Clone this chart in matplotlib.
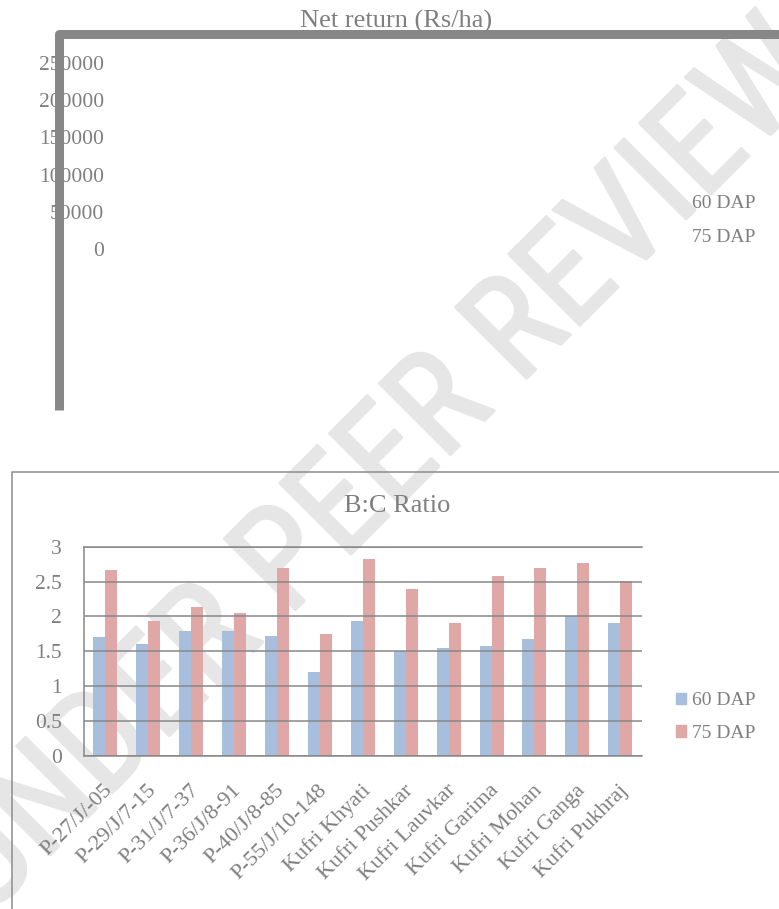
import numpy as np
import matplotlib
matplotlib.use("Agg")
import matplotlib.pyplot as plt
from matplotlib.lines import Line2D
from matplotlib.patches import Patch
from matplotlib.transforms import ScaledTranslation
import matplotlib.patheffects as pe

W, H = 779, 909
SERIF = ["Liberation Serif", "DejaVu Serif"]
TXT = "#7f7f7f"
FRAME = "#878787"
BLUE = "#a7bfdd"
RED = "#dfa7a6"
MARK = "#e6e6e6"

# net return panel (no bars rendered, only its axis ticks)
net_ticks = [0, 50000, 100000, 150000, 200000, 250000]
series = ["60 DAP", "75 DAP"]

# B:C ratio per genotype
varieties = ["P-27/J/-05", "P-29/J/7-15", "P-31/J/7-37", "P-36/J/8-91",
             "P-40/J/8-85", "P-55/J/10-148", "Kufri Khyati", "Kufri Pushkar",
             "Kufri Lauvkar", "Kufri Garima", "Kufri Mohan", "Kufri Ganga",
             "Kufri Pukhraj"]
bc_60 = [1.70, 1.60, 1.79, 1.79, 1.72, 1.20, 1.93, 1.50, 1.55, 1.58, 1.68, 2.00, 1.91]
bc_75 = [2.67, 1.93, 2.13, 2.05, 2.70, 1.75, 2.82, 2.39, 1.91, 2.58, 2.70, 2.77, 2.51]
bc_ticks = [0, 0.5, 1, 1.5, 2, 2.5, 3]


def box(x0, y0, x1, y1):
    # pixel box (top-left origin) -> figure fraction rect
    return [x0 / W, 1 - y1 / H, (x1 - x0) / W, (y1 - y0) / H]


def px(x, y):
    return x / W, 1 - y / H


fig = plt.figure(figsize=(W / 100, H / 100), dpi=100)
fig.patch.set_facecolor("white")

# watermark, under everything else
fig.text(*px(380, 470), "UNDER PEER REVIEW", ha="center", va="center",
         rotation=45, fontsize=102, color=MARK, zorder=-5,
         family=["Liberation Sans Narrow", "Roboto Condensed", "DejaVu Sans"],
         path_effects=[pe.withStroke(linewidth=2, foreground=MARK,
                                     joinstyle="round", capstyle="round")])

# ---- top panel: Net return ----
ax1 = fig.add_axes(box(110, 63, 600, 249))
ax1.set_ylim(0, 250000)
ax1.set_yticks(net_ticks)
ax1.set_yticklabels([str(t) for t in net_ticks])
ax1.set_xticks([])
for s in ax1.spines.values():
    s.set_visible(False)
ax1.tick_params(axis="y", length=0, pad=4.3, labelcolor=TXT, labelsize=15.5)
for lab in ax1.get_yticklabels():
    lab.set_family(SERIF)
ax1.patch.set_alpha(0)

fx, fy = zip(*[px(59.5, 410), px(59.5, 33.5), px(800, 33.5)])
fig.add_artist(Line2D(fx, fy, transform=fig.transFigure, color=FRAME, lw=6.5,
                      solid_joinstyle="round", solid_capstyle="butt", zorder=5))
fig.text(*px(396, 28), "Net return (Rs/ha)", ha="center", va="baseline",
         fontsize=19, color=TXT, family=SERIF, zorder=6)
for name, yy in zip(series, [203, 238]):
    fig.text(*px(692, yy), name, ha="left", va="center", fontsize=14,
             color=TXT, family=SERIF)

# ---- bottom panel: B:C ratio ----
bx, by = zip(*[px(12, 920), px(12, 471.5), px(800, 471.5)])
fig.add_artist(Line2D(bx, by, transform=fig.transFigure, color="#8c8c8c", lw=1.1))
fig.text(*px(397, 512), "B:C Ratio", ha="center", va="baseline",
         fontsize=19, color=TXT, family=SERIF)

ax2 = fig.add_axes(box(84, 546.7, 641.7, 756))
ax2.patch.set_alpha(0)
x = np.arange(len(varieties))
w = 0.28
ax2.bar(x - w / 2, bc_60, w, color=BLUE, label=series[0], zorder=2)
ax2.bar(x + w / 2, bc_75, w, color=RED, label=series[1], zorder=2)
ax2.set_xlim(-0.5, len(varieties) - 0.5)
ax2.set_ylim(0, 3)
ax2.set_yticks(bc_ticks)
ax2.set_yticklabels([f"{t:g}" for t in bc_ticks])
ax2.set_xticks(x)
ax2.set_xticklabels(varieties, rotation=45, ha="right", rotation_mode="anchor")
ax2.yaxis.grid(True, color=FRAME, lw=1.1, zorder=3)
ax2.set_axisbelow(False)
ax2.spines["right"].set_visible(False)
for s in ["left", "bottom", "top"]:
    ax2.spines[s].set_color(FRAME)
    ax2.spines[s].set_linewidth(1.1)
ax2.tick_params(axis="both", length=0, labelcolor=TXT)
ax2.tick_params(axis="y", pad=16, labelsize=15.5)
ax2.tick_params(axis="x", pad=18, labelsize=16)
shift = ScaledTranslation(-2 / 100, 0, fig.dpi_scale_trans)
for lab in ax2.get_xticklabels():
    lab.set_transform(lab.get_transform() + shift)
for lab in ax2.get_yticklabels() + ax2.get_xticklabels():
    lab.set_family(SERIF)

handles = [Patch(color=BLUE), Patch(color=RED)]
fig.legend(handles, series, loc="center left", bbox_to_anchor=px(676, 717),
           frameon=False, handlelength=0.52, handleheight=0.52,
           handletextpad=0.3, labelspacing=0.8, borderpad=0, borderaxespad=0,
           prop={"family": SERIF, "size": 14}, labelcolor=TXT)

fig.savefig("out.png", dpi=100)
